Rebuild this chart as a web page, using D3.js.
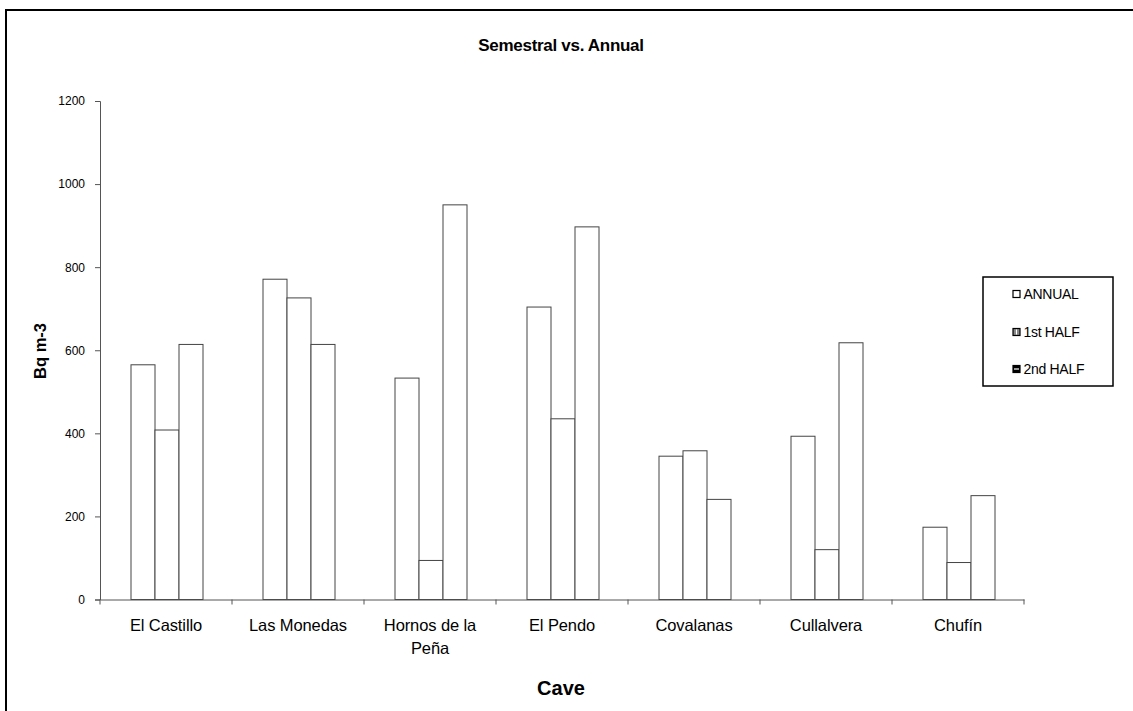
<!DOCTYPE html>
<html>
<head>
<meta charset="utf-8">
<script src="https://cdn.jsdelivr.net/npm/d3@7"></script>
<style>
  html, body { margin: 0; padding: 0; background: #fff; }
  svg { display: block; font-family: "Liberation Sans", Arial, sans-serif; }
</style>
</head>
<body>
<svg id="chart" width="1133" height="711"></svg>
<script>
const categories = ["El Castillo", "Las Monedas", "Hornos de la Peña", "El Pendo", "Covalanas", "Cullalvera", "Chufín"];
const seriesNames = ["ANNUAL", "1st HALF", "2nd HALF"];
const annual  = [565, 771, 533, 704, 345, 393, 174];
const firstHalf  = [408, 726, 94, 435, 358, 120, 89];
const secondHalf = [614, 614, 950, 897, 241, 618, 250];
const yTicks = [0, 200, 400, 600, 800, 1000, 1200];
const seriesValues = [annual, firstHalf, secondHalf];

const svg = d3.select("#chart");

// outer frame
svg.append("rect").attr("x", 6).attr("y", 10).attr("width", 1140).attr("height", 720)
  .attr("fill", "#fff").attr("stroke", "#000").attr("stroke-width", 2);

const x0 = d3.scaleBand().domain(categories).range([100, 1024]).padding(0);
const x1 = d3.scaleBand().domain(seriesNames).range([0, x0.bandwidth()]).paddingInner(0).paddingOuter(1.25);
const y = d3.scaleLinear().domain([0, 1200]).range([599.5, 101]);

// title
svg.append("text").attr("x", 561).attr("y", 51).attr("text-anchor", "middle")
  .attr("font-size", 17).attr("font-weight", "bold").attr("letter-spacing", -0.3)
  .text("Semestral vs. Annual");

// bars
const groups = svg.append("g").selectAll("g").data(categories).join("g")
  .attr("transform", d => `translate(${x0(d)},0)`);
groups.selectAll("rect")
  .data((c, i) => seriesNames.map((s, j) => ({ s, v: seriesValues[j][i] })))
  .join("rect")
  .attr("x", d => x1(d.s) + 1)
  .attr("y", d => y(d.v))
  .attr("width", x1.bandwidth())
  .attr("height", d => y(0) - y(d.v))
  .attr("fill", "#fff").attr("stroke", "#444").attr("stroke-width", 1);

// y axis
const yAxis = d3.axisLeft(y).tickValues(yTicks).tickSize(5).tickPadding(10).tickFormat(d3.format("d"));
const gy = svg.append("g").attr("transform", "translate(100,0)").call(yAxis);
gy.select(".domain").attr("stroke", "#555");
gy.selectAll(".tick line").attr("stroke", "#555");
gy.selectAll(".tick text").attr("font-size", 12).attr("fill", "#000")
  .attr("font-family", "Liberation Sans, Arial, sans-serif");

// x axis
const xAxis = d3.axisBottom(x0).tickSize(0).tickPadding(20);
const gx = svg.append("g").attr("transform", `translate(0,${y(0)})`).call(xAxis);
gx.select(".domain").attr("stroke", "#555");
gx.selectAll(".tick text").attr("font-size", 16.5).attr("fill", "#000")
  .attr("font-family", "Liberation Sans, Arial, sans-serif")
  .attr("letter-spacing", -0.1)
  .each(function () {
    const t = d3.select(this);
    const words = t.text().split(" ");
    const maxW = 110;
    t.text(null);
    let line = [], lines = [];
    let tspan = t.append("tspan");
    words.forEach(w => {
      line.push(w);
      tspan.text(line.join(" "));
      if (this.getComputedTextLength() > maxW && line.length > 1) {
        line.pop();
        lines.push(line.join(" "));
        line = [w];
        tspan.text(w);
      }
    });
    lines.push(line.join(" "));
    t.text(null);
    lines.forEach((l, k) => {
      t.append("tspan").attr("x", 0).attr("dy", k === 0 ? "0.71em" : "1.4em").text(l);
    });
  });
// category boundary ticks
const bounds = categories.map(c => x0(c)).concat([x0.range()[1]]);
svg.append("g").selectAll("line").data(bounds).join("line")
  .attr("x1", d => d).attr("x2", d => d)
  .attr("y1", y(0)).attr("y2", y(0) + 5)
  .attr("stroke", "#555");

// axis titles
svg.append("text").attr("x", 561).attr("y", 695).attr("text-anchor", "middle")
  .attr("font-size", 20).attr("font-weight", "bold").text("Cave");
svg.append("text").attr("transform", "translate(46,351) rotate(-90)").attr("text-anchor", "middle")
  .attr("font-size", 16.5).attr("font-weight", "bold").text("Bq m-3");

// legend
const lg = svg.append("g");
lg.append("rect").attr("x", 983).attr("y", 277).attr("width", 130).attr("height", 109)
  .attr("fill", "#fff").attr("stroke", "#000").attr("stroke-width", 1.5);
const legendY = [294, 332, 369];
const items = lg.selectAll("g").data(seriesNames).join("g")
  .attr("transform", (d, i) => `translate(1013,${legendY[i]})`);
items.append("rect").attr("x", 0).attr("y", -3.5).attr("width", 7).attr("height", 7)
  .attr("fill", (d, i) => i === 0 ? "#fff" : (i === 1 ? "#888" : "#000"))
  .attr("stroke", "#000").attr("stroke-width", 1.2);
items.filter((d, i) => i === 1).append("line")
  .attr("x1", 3.5).attr("x2", 3.5).attr("y1", -2.5).attr("y2", 2.5).attr("stroke", "#fff").attr("stroke-width", 1);
items.filter((d, i) => i === 2).append("line")
  .attr("x1", 1).attr("x2", 6).attr("y1", 0).attr("y2", 0).attr("stroke", "#fff").attr("stroke-width", 1.2);
items.append("text").attr("x", 10.5).attr("y", 0).attr("dy", "0.35em")
  .attr("font-size", 14).attr("letter-spacing", -0.3).text(d => d);
</script>
</body>
</html>
